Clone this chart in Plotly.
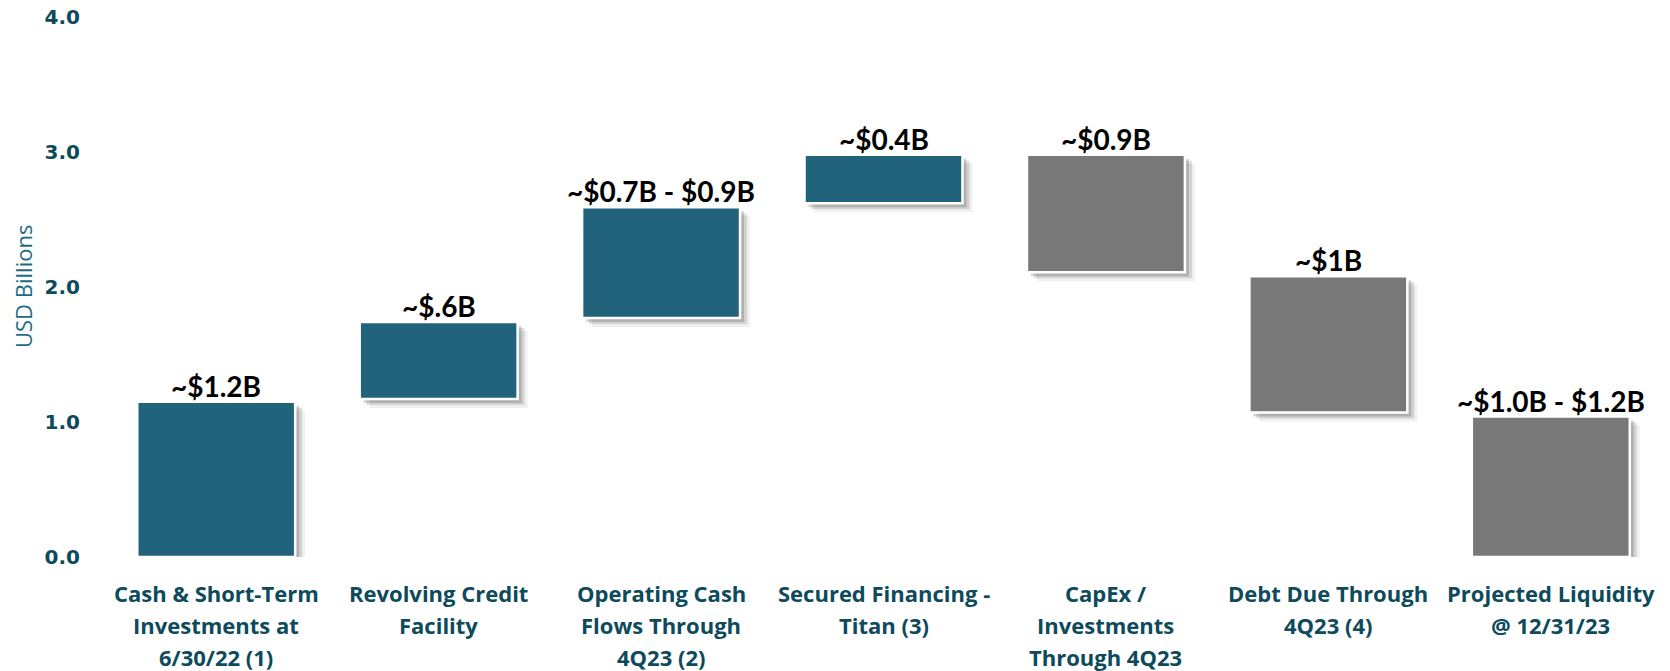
import plotly.graph_objects as go

# ---- data ----
categories = [
    "Cash & Short-Term<br>Investments at<br>6/30/22 (1)",
    "Revolving Credit<br>Facility",
    "Operating Cash<br>Flows Through<br>4Q23 (2)",
    "Secured Financing -<br>Titan (3)",
    "CapEx /<br>Investments<br>Through 4Q23",
    "Debt Due Through<br>4Q23 (4)",
    "Projected Liquidity<br>@ 12/31/23",
]
bar_bottoms = [0.0, 1.17, 1.77, 2.62, 2.11, 1.07, 0.0]
bar_tops = [1.15, 1.74, 2.59, 2.98, 2.98, 2.08, 1.04]
value_labels = ["~$1.2B", "~$.6B", "~$0.7B - $0.9B", "~$0.4B", "~$0.9B", "~$1B", "~$1.0B - $1.2B"]
bar_kind = ["source", "source", "source", "source", "use", "use", "use"]
y_ticks = [0, 1, 2, 3, 4]

# ---- styles ----
kind_color = {"source": "#20637A", "use": "#787878"}
tick_color = "#0D4A5B"
W, H = 1670, 671
ml, mr, mt, mb = 105, 8, 17, 114
plot_w = W - ml - mr
plot_h = H - mt - mb
px_per_cat = plot_w / len(categories)
px_per_unit = plot_h / 4.0

bar_w = 0.71
heights = [t - b for t, b in zip(bar_tops, bar_bottoms)]
colors = [kind_color[k] for k in bar_kind]

fig = go.Figure()

# soft drop shadows (layers)
for dx, dy, alpha in [(10, 9, 0.06), (7, 6, 0.12), (4, 4, 0.16)]:
    fig.add_trace(go.Bar(
        x=categories, y=heights,
        base=[b - dy / px_per_unit for b in bar_bottoms],
        width=bar_w, offset=-bar_w / 2 + dx / px_per_cat,
        marker=dict(color=f"rgba(0,0,0,{alpha})", line=dict(width=0)),
        hoverinfo="skip", showlegend=False,
    ))

fig.add_trace(go.Bar(
    x=categories, y=heights, base=bar_bottoms,
    width=bar_w, offset=-bar_w / 2,
    marker=dict(color=colors, line=dict(color="white", width=2.5)),
    showlegend=False,
))

annotations = []
for cat, top, lab in zip(categories, bar_tops, value_labels):
    annotations.append(dict(
        x=cat, y=top, xref="x", yref="y", text=f"<b>{lab}</b>", showarrow=False,
        yanchor="bottom", yshift=-3,
        font=dict(family="Lato", size=28, color="black"),
    ))
    for i, line in enumerate(cat.split("<br>")):
        annotations.append(dict(
            x=cat, y=0, xref="x", yref="y", text=f"<b>{line}</b>", showarrow=False,
            yanchor="middle", yshift=-36 - 32 * i,
            font=dict(family="Open Sans", size=22, color=tick_color),
        ))

annotations.append(dict(
    x=(23 - ml) / plot_w, y=0.5, xref="paper", yref="paper", text="USD Billions",
    textangle=-90, showarrow=False, xanchor="center", yanchor="middle",
    font=dict(family="Open Sans", size=22, color="#1F6C82"),
))

fig.update_layout(
    width=W, height=H,
    margin=dict(l=ml, r=mr, t=mt, b=mb),
    paper_bgcolor="white", plot_bgcolor="white",
    barmode="overlay",
    annotations=annotations,
    xaxis=dict(showticklabels=False, showgrid=False, zeroline=False, showline=False,
               range=[-0.5, len(categories) - 0.5]),
    yaxis=dict(range=[0, 4], tickvals=y_ticks, ticktext=[f"<b>{v:.1f}</b>" for v in y_ticks],
               showgrid=False, zeroline=False, showline=False, ticks="", ticklabelstandoff=24,
               tickfont=dict(family="DejaVu Sans", size=20, color=tick_color),
               automargin=False),
)

fig.write_html("out.html", config={"displayModeBar": False},
               post_script="document.body.style.margin='0';")
